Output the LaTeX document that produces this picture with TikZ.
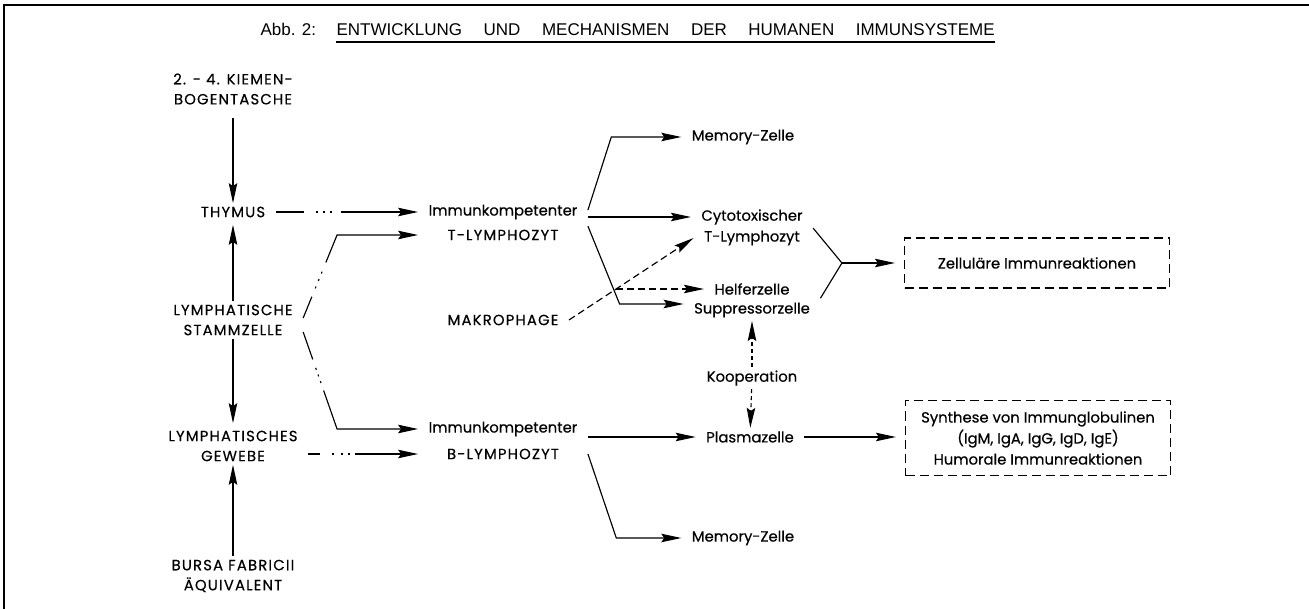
\documentclass[tikz,border=0pt]{standalone}
\usepackage{fontspec}
\setmainfont{Poppins}[FakeBold=0.4]
\newfontfamily\capsfont{Poppins}[LetterSpace=8,FakeBold=0.4]
\newfontfamily\headfont{Liberation Sans}
\usetikzlibrary{arrows.meta,calc}
\begin{document}
\begin{tikzpicture}
[x=1pt, y=-1pt, line width=1.15pt,
 lbl/.style={font=\fontsize{14.8}{21}\selectfont, align=center, inner xsep=10pt, inner ysep=3pt},
 caps/.style={lbl, font=\capsfont\fontsize{14.8}{20}\selectfont},
 head/.style={font=\headfont\fontsize{17}{20}\selectfont, inner sep=0pt, anchor=base west},
 arr/.style={-{Stealth[length=20pt,width=8.5pt,inset=3pt]}},
 dbox/.style={lbl, draw, dash pattern=on 9pt off 5pt, minimum width=265pt},
 mdash/.style={dash pattern=on 7pt off 4pt},
 kdash/.style={dash pattern=on 4pt off 3pt}]
\useasboundingbox (0,0) rectangle (1309,609);
\draw[line width=2pt] (4,609) -- (4,5) -- (1309,5);
\node[head] (abb) at (260,36) {Abb. 2:};
\node[head] (title) at (336,36) {\spaceskip=21.5pt ENTWICKLUNG UND MECHANISMEN DER HUMANEN IMMUNSYSTEME};
\draw[line width=1.8pt] ([yshift=-6pt]title.base west) -- ([yshift=-6pt]title.base east);

\node[caps] (kiemen) at (233,89) {2. - 4. KIEMEN-\\BOGENTASCHE};
\node[caps] (thymus) at (233,212) {THYMUS};
\node[caps] (stamm) at (233,320) {LYMPHATISCHE\\STAMMZELLE};
\node[caps] (gewebe) at (233,446) {LYMPHATISCHES\\GEWEBE};
\node[caps] (bursa) at (233,576) {BURSA FABRICII\\ÄQUIVALENT};

\node[lbl] (timm) at (503,212) {Immunkompetenter};
\node[caps] (tly) at (503,235) {T-LYMPHOZYT};
\node[caps] (makro) at (503,320) {MAKROPHAGE};
\node[lbl] (bimm) at (503,429) {Immunkompetenter};
\node[caps] (bly) at (503,454) {B-LYMPHOZYT};

\node[lbl] (mem1) at (743,137) {Memory-Zelle};
\node[lbl] (cyto) at (752,217) {Cytotoxischer};
\node[lbl] (cytot) at (752,238) {T-Lymphozyt};
\node[lbl] (helfer) at (752,289) {Helferzelle};
\node[lbl] (supp) at (752,310) {Suppressorzelle};
\node[lbl] (koop) at (752,378) {Kooperation};
\node[lbl] (plasma) at (750,437) {Plasmazelle};
\node[lbl] (mem2) at (743,538) {Memory-Zelle};
\node[dbox, minimum height=50pt] (zell) at (1037,263) {Zelluläre Immunreaktionen};
\node[dbox, minimum height=75pt] (synth) at (1038,438) {Synthese von Immunglobulinen\\(IgM, IgA, IgG, IgD, IgE)\\Humorale Immunreaktionen};

\draw[arr, shorten <=10pt] (kiemen) -- (thymus);
\draw[arr, shorten >=4pt] (stamm) -- (thymus);
\draw[arr, shorten >=4pt] (stamm) -- (gewebe);
\draw[arr] (bursa) -- (gewebe);

\draw[arr, dash pattern=on 28pt off 12pt on 2pt off 5pt on 2pt off 5pt on 2pt off 9pt on 400pt] (thymus) -- (timm);
\draw[arr, dash pattern=on 23pt off 9pt on 2pt off 6pt on 2pt off 6pt on 2pt off 10pt on 400pt] ([yshift=2pt]stamm.east) -- ($(timm.west |- tly)+(-81,0)$) -- (timm.west |- tly);
\draw[arr, dash pattern=on 29pt off 9pt on 2pt off 5pt on 2pt off 5pt on 2pt off 8pt on 400pt] ([yshift=-12pt]stamm.east) -- ($(bimm.west)+(-81,0)$) -- (bimm.west);
\draw[arr, dash pattern=on 12pt off 12pt on 2pt off 7pt on 2pt off 5pt on 2pt off 5pt on 400pt] (gewebe.east |- bly) -- (bimm.west |- bly);

\draw[arr] ([yshift=2pt]timm.east) -- ($(mem1.west)+(-70,0)$) -- (mem1.west);
\draw[arr] (timm.east |- cyto) -- (cyto.west);
\draw[arr] (timm.east |- tly.north) -- ($(supp.west)+(-64,-6)$) -- ([yshift=6pt]supp.west);
\draw[arr, mdash] (makro.east) -- (cytot.west);
\coordinate (mk) at (intersection of makro.east--cytot.west and helfer.west--helfer.east);
\draw[arr, mdash] (mk) -- (helfer.west |- mk);

\draw[arr] (bimm.east |- plasma) -- (plasma.west);
\draw[arr] (bimm.east |- bly) -- ($(mem2.west)+(-65,0)$) -- (mem2.west);

\draw[arr, kdash] (koop) -- (supp);
\draw[arr, kdash] (koop) -- (plasma);

\coordinate (join) at ($(zell.west)+(-62,0)$);
\draw (cyto.south east) -- (join);
\draw (supp.east |- helfer.south) -- (join);
\draw[arr, shorten >=9pt] (join) -- (zell.west);
\draw[arr, shorten >=9pt] (plasma.east) -- (synth.west |- plasma);
\end{tikzpicture}
\end{document}
